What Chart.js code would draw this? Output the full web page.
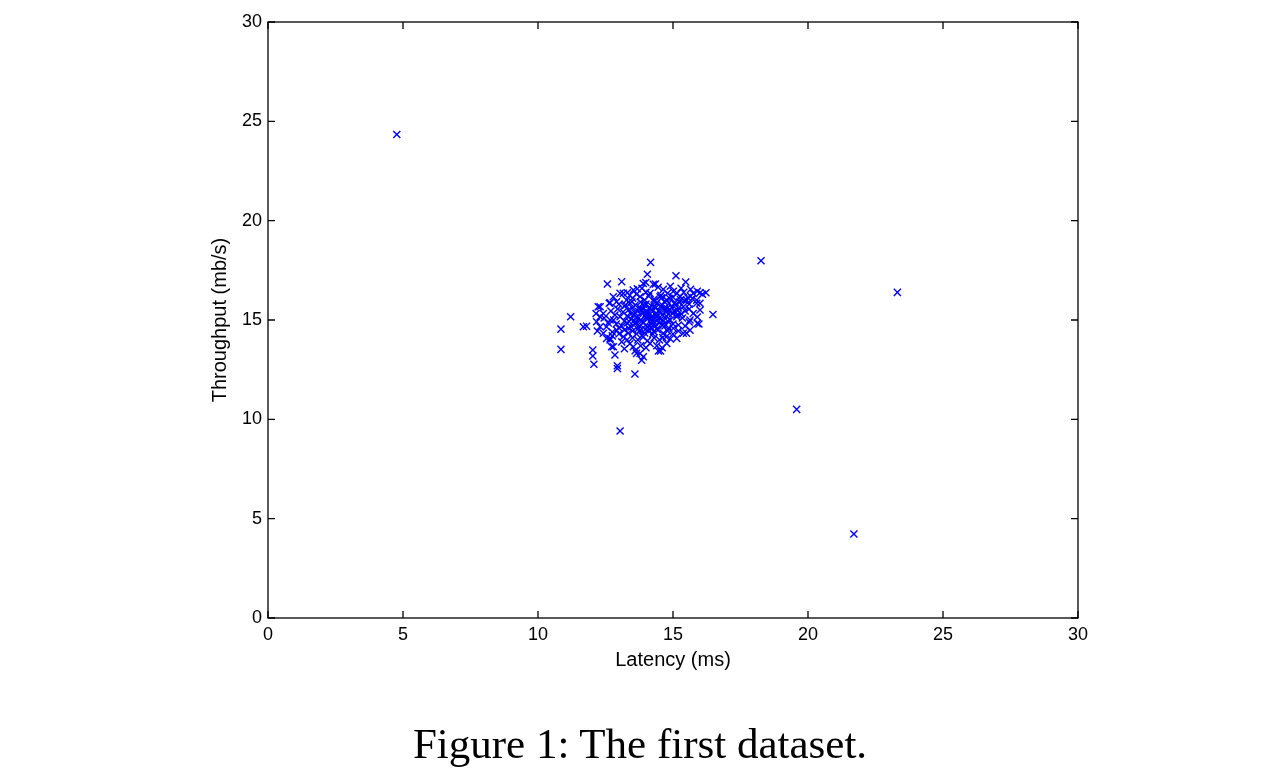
<!DOCTYPE html>
<html>
<head>
<meta charset="utf-8">
<script src="https://cdn.jsdelivr.net/npm/chart.js@4.4.1/dist/chart.umd.min.js"></script>
<style>
   body { margin: 0; background: #fff; }
   #wrap { position: relative; width: 1280px; height: 784px; }
   #caption {
      position: absolute;
      left: 0;
      width: 1280px;
      top: 722px;
      text-align: center;
      font-family: "Liberation Serif", "DejaVu Serif", serif;
      font-size: 43px;
      line-height: 1;
      color: #000;
   }
</style>
</head>
<body>
<div id="wrap">
   <canvas id="myChart" width="1280" height="784"></canvas>
   <div id="caption">Figure 1: The first dataset.</div>
</div>
<script>
// values (ms, mb/s)
let latency = [
   14.17, 14.05, 15.11, 13.10, 12.57, 13.99, 14.35, 15.47, 13.90, 14.27,
   13.53, 13.68, 14.64, 15.65, 15.01, 14.45, 15.30, 13.85, 14.90,
   13.16, 14.15, 16.00, 16.22, 16.09, 15.75, 13.31, 13.04, 14.80, 15.40, 14.00, 15.90,
   12.79, 13.78, 14.52, 15.26, 13.28, 14.77, 15.51, 15.88, 12.67, 13.50, 14.30, 15.00, 15.65, 14.10, 13.95,
   12.64, 12.91, 13.41, 15.88, 16.00, 12.23, 12.30, 15.38, 13.60, 13.80, 14.00, 14.20, 14.40, 14.60, 14.85, 15.10, 15.25, 15.60, 13.20, 14.30,
   16.00, 14.89, 12.15, 12.42, 15.75, 12.70, 12.95, 13.15, 13.35, 13.50, 13.70, 13.90, 14.05, 14.20, 14.35, 14.50, 14.70, 15.05, 15.20, 15.45, 15.60, 13.60, 14.15, 14.60, 15.30,
   11.21, 12.30, 16.48, 12.67, 13.04, 15.14, 15.63, 13.30, 13.45, 13.65, 13.80, 13.95, 14.10, 14.25, 14.40, 14.55, 14.75, 14.90, 15.35, 12.85, 13.55, 14.00, 14.85, 15.90, 13.20, 14.65,
   12.17, 10.85, 11.68, 11.80, 12.30, 12.54, 15.90, 15.96, 15.01, 12.91, 12.90, 13.10, 13.30, 13.45, 13.60, 13.75, 13.90, 14.05, 14.20, 14.35, 14.50, 14.70, 14.85, 15.20, 15.45, 13.00, 13.85, 14.30, 15.60, 12.60,
   15.63, 12.42, 14.64, 15.38, 15.50, 12.75, 13.00, 13.20, 13.35, 13.50, 13.65, 13.80, 13.95, 14.10, 14.25, 14.45, 14.80, 15.00, 15.20, 13.70, 14.20, 12.20,
   13.16, 12.54, 12.67, 15.14, 12.67, 13.30, 13.50, 13.70, 13.90, 14.05, 14.30, 14.50, 14.75, 14.90, 13.85,
   12.79, 12.73, 13.53, 14.15, 14.77, 12.03, 13.40, 13.80, 14.00, 14.40, 14.60, 13.20,
   10.85, 12.03, 12.85, 13.65, 13.78, 13.90, 14.46, 14.54, 13.60,
   12.07, 12.94, 12.94, 13.59, 13.84,
   13.25, 13.45, 13.75, 14.15, 14.35, 14.55, 14.75, 14.95, 13.35, 13.55, 13.75, 14.00, 14.20, 14.40, 14.60, 14.80, 15.00, 15.15,
   13.65, 14.55, 15.15, 13.40, 12.45, 12.80, 12.75, 13.10, 13.00,
   13.72, 13.88, 14.08, 14.22, 14.38, 14.12, 13.98, 14.28, 14.48, 13.62, 13.82, 14.02, 14.18, 14.42, 13.92, 14.32,
   14.68, 14.88, 15.08, 15.28, 14.58, 14.78, 14.98, 15.18, 13.48, 13.38, 14.62, 15.42, 15.55, 15.72,
   4.77, 18.26, 23.31, 19.58, 21.70, 13.04
];
let throughput = [
   17.90, 17.30, 17.23, 16.93, 16.81, 16.89, 16.81, 16.91, 16.84, 16.80,
   16.51, 16.57, 16.54, 16.54, 16.44, 16.65, 16.60, 16.60, 16.70,
   16.34, 16.34, 16.37, 16.37, 16.30, 16.34, 16.37, 16.34, 16.35, 16.40, 16.40, 16.45,
   16.17, 16.17, 16.17, 16.17, 16.00, 16.00, 16.00, 16.00, 15.87, 16.10, 16.05, 16.15, 16.20, 16.20, 16.00,
   15.84, 15.92, 15.84, 15.84, 15.84, 15.67, 15.67, 15.67, 15.75, 15.90, 15.80, 15.70, 15.85, 15.75, 15.85, 15.75, 15.90, 15.80, 15.70, 15.95,
   15.50, 15.50, 15.33, 15.33, 15.33, 15.45, 15.55, 15.40, 15.50, 15.60, 15.45, 15.55, 15.40, 15.50, 15.60, 15.40, 15.55, 15.45, 15.60, 15.45, 15.55, 15.35, 15.30, 15.25, 15.30,
   15.16, 15.16, 15.28, 15.00, 15.16, 15.16, 15.00, 15.20, 15.05, 15.15, 15.00, 15.20, 15.10, 15.00, 15.15, 15.05, 15.20, 15.00, 15.10, 15.25, 15.28, 15.30, 15.30, 15.15, 14.95, 14.95,
   14.91, 14.54, 14.66, 14.69, 14.66, 14.66, 14.83, 14.80, 14.58, 14.50, 14.80, 14.70, 14.85, 14.65, 14.80, 14.70, 14.85, 14.65, 14.80, 14.70, 14.85, 14.70, 14.60, 14.75, 14.70, 14.60, 14.95, 14.90, 14.90, 14.85,
   14.49, 14.33, 14.33, 14.33, 14.33, 14.40, 14.30, 14.50, 14.35, 14.45, 14.30, 14.50, 14.35, 14.45, 14.30, 14.50, 14.45, 14.30, 14.45, 14.55, 14.60, 14.45,
   14.16, 14.07, 14.07, 14.07, 13.99, 14.00, 14.10, 14.00, 14.15, 13.95, 14.10, 14.00, 14.15, 14.05, 14.20,
   13.65, 13.65, 13.65, 13.82, 13.82, 13.49, 13.80, 13.70, 13.60, 13.70, 13.60, 13.55,
   13.52, 13.19, 13.24, 13.32, 13.32, 13.15, 13.44, 13.44, 13.45,
   12.77, 12.70, 12.56, 12.28, 12.98,
   15.75, 15.30, 15.65, 15.60, 15.25, 15.70, 15.40, 15.65, 14.60, 14.95, 14.45, 14.75, 15.15, 14.55, 14.75, 14.95, 14.80, 15.25,
   16.30, 16.25, 16.35, 16.25, 15.10, 15.00, 14.20, 13.90, 15.80,
   15.08, 15.38, 15.22, 14.92, 15.35, 15.62, 14.52, 14.42, 15.48, 14.88, 15.52, 15.12, 14.62, 14.98, 15.78, 15.68,
   15.92, 16.08, 15.88, 16.02, 16.12, 15.58, 15.32, 15.48, 15.92, 14.92, 14.12, 15.98, 16.12, 16.08,
   24.34, 17.98, 16.39, 10.50, 4.23, 9.41
];
let tickValues = [0, 5, 10, 15, 20, 25, 30];

let points = latency.map((x, i) => ({ x: x, y: throughput[i] }));

// box round the plot with inward tick marks on all four sides
const boxAxes = {
   id: "boxAxes",
   afterDraw(chart) {
      const c = chart.ctx;
      const a = chart.chartArea;
      const xs = chart.scales.x;
      const ys = chart.scales.y;
      const len = 7;
      c.save();
      c.strokeStyle = "#000";
      c.lineWidth = 1.3;
      c.beginPath();
      tickValues.forEach((v) => {
         let px = xs.getPixelForValue(v);
         c.moveTo(px, a.bottom);
         c.lineTo(px, a.bottom - len);
         c.moveTo(px, a.top);
         c.lineTo(px, a.top + len);
         let py = ys.getPixelForValue(v);
         c.moveTo(a.left, py);
         c.lineTo(a.left + len, py);
         c.moveTo(a.right, py);
         c.lineTo(a.right - len, py);
      });
      c.stroke();
      c.strokeRect(a.left, a.top, a.right - a.left, a.bottom - a.top);
      c.restore();
   },
};

const font = { family: "'Liberation Sans', Arial, sans-serif", size: 18 };
const titleFont = { family: "'Liberation Sans', Arial, sans-serif", size: 20 };

new Chart(document.getElementById("myChart"), {
   type: "scatter",
   data: {
      datasets: [
         {
            data: points,
            pointStyle: "crossRot",
            pointRadius: 5,
            pointBorderWidth: 1.4,
            borderColor: "#0000ff",
            backgroundColor: "#0000ff",
         },
      ],
   },
   options: {
      responsive: false,
      devicePixelRatio: 1,
      animation: false,
      layout: { padding: { left: 204, right: 202, top: 22, bottom: 108 } },
      plugins: { legend: { display: false }, tooltip: { enabled: false } },
      scales: {
         x: {
            type: "linear",
            min: 0,
            max: 30,
            afterFit: (scale) => { scale.height = 58; },
            afterBuildTicks: (scale) => { scale.ticks = tickValues.map((v) => ({ value: v })); },
            grid: { display: false, drawTicks: false },
            border: { display: false },
            ticks: { color: "#000", font: font, padding: 6, maxRotation: 0 },
            title: { display: true, text: "Latency (ms)", color: "#000", font: titleFont },
         },
         y: {
            type: "linear",
            min: 0,
            max: 30,
            afterFit: (scale) => { scale.width = 64; },
            afterBuildTicks: (scale) => { scale.ticks = tickValues.map((v) => ({ value: v })); },
            grid: { display: false, drawTicks: false },
            border: { display: false },
            ticks: { color: "#000", font: font, padding: 6 },
            title: { display: true, text: "Throughput (mb/s)", color: "#000", font: titleFont },
         },
      },
   },
   plugins: [boxAxes],
});
</script>
</body>
</html>
